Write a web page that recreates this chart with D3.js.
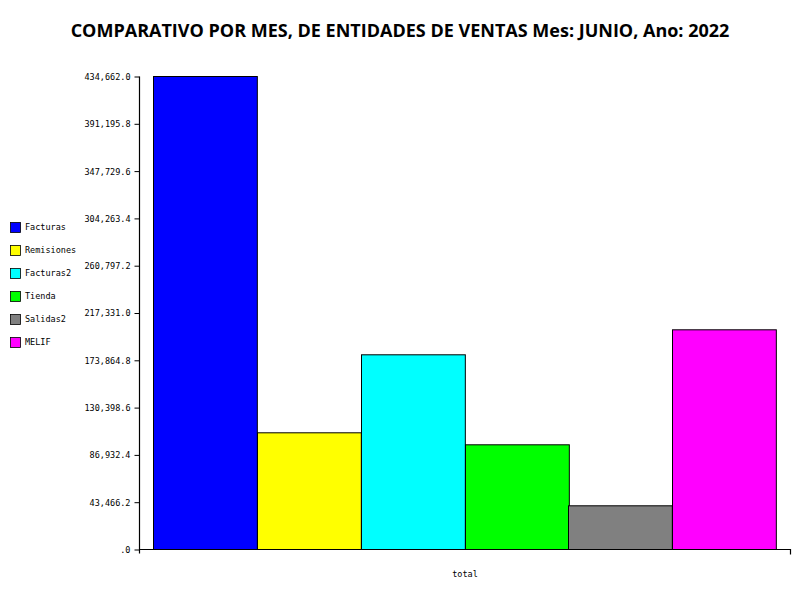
<!DOCTYPE html>
<html>
<head>
<meta charset="utf-8">
<script src="https://cdn.jsdelivr.net/npm/d3@7"></script>
<style>
body { margin: 0; background: #fff; }
svg { display: block; }
</style>
</head>
<body>
<svg id="chart" width="800" height="600"></svg>
<script>
const titleText = "COMPARATIVO POR MES, DE ENTIDADES DE VENTAS Mes: JUNIO, Ano: 2022";
const categories = ["total"];
const seriesNames = ["Facturas", "Remisiones", "Facturas2", "Tienda", "Salidas2", "MELIF"];
const seriesValues = [434662.0, 107240, 178920, 96210, 40160, 201890];
const seriesColors = ["#0000ff", "#ffff00", "#00ffff", "#00ff00", "#808080", "#ff00ff"];
const yTickValues = [0, 43466.2, 86932.4, 130398.6, 173864.8, 217331.0, 260797.2, 304263.4, 347729.6, 391195.8, 434662.0];

const svg = d3.select("#chart");
const margin = { left: 139, right: 10, top: 76, bottom: 51 };
const W = 800, H = 600;
const monoFont = "'DejaVu Sans Mono', monospace";

svg.append("text")
  .attr("x", 400).attr("y", 37)
  .attr("text-anchor", "middle")
  .style("font-family", "'Open Sans', sans-serif")
  .style("font-weight", "bold")
  .style("font-size", "18px")
  .text(titleText);

const y = d3.scaleLinear().domain([0, d3.max(yTickValues)]).range([H - margin.bottom, margin.top]);
const x0 = d3.scaleBand().domain(categories).range([margin.left, W - margin.right]).paddingInner(0).paddingOuter(0.0225);
const x1 = d3.scaleBand().domain(seriesNames).range([0, x0.bandwidth()]);

const fmt = v => { const s = d3.format(",.1f")(v); return s.startsWith("0.") ? s.slice(1) : s; };

// bars
const g = svg.append("g");
categories.forEach(cat => {
  g.selectAll(null).data(seriesNames.map((n, i) => ({ n, v: seriesValues[i], c: seriesColors[i] })))
    .enter().append("rect")
    .attr("x", d => Math.round(x0(cat) + x1(d.n)) + 0.5)
    .attr("y", d => y(d.v) + 0.5)
    .attr("width", x1.bandwidth())
    .attr("height", d => y(0) - y(d.v))
    .attr("fill", d => d.c)
    .attr("stroke", "#000")
    .attr("stroke-width", 1);
});

// y axis
const yAxis = d3.axisLeft(y).tickValues(yTickValues).tickFormat(fmt).tickSize(5).tickSizeOuter(0);
const ya = svg.append("g").attr("transform", `translate(${margin.left + 0.5},0.5)`).call(yAxis);
ya.selectAll("text").style("font-family", monoFont).style("font-size", "8.5px").attr("x", -9).attr("dy", "0.35em");
ya.select(".domain").attr("d", `M0,${y(0) + 4}V${margin.top}`).attr("stroke-width", 1.2);

// x axis
const xAxis = d3.axisBottom(x0).tickSize(0).tickSizeOuter(5);
const xa = svg.append("g").attr("transform", `translate(0.5,${y(0) + 0.5})`).call(xAxis);
xa.select(".domain").attr("d", `M${margin.left},0H${W - margin.right}V5`).attr("stroke-width", 1.2);
xa.selectAll("text").style("font-family", monoFont).style("font-size", "8.5px").attr("y", 27).attr("dy", "0");

// legend
const lg = svg.append("g");
seriesNames.forEach((n, i) => {
  const yy = 222 + i * 23;
  lg.append("rect").attr("x", 10.5).attr("y", yy + 0.5).attr("width", 10).attr("height", 10)
    .attr("fill", seriesColors[i]).attr("stroke", "#000").attr("stroke-width", 0.8);
  lg.append("text").attr("x", 25).attr("y", yy + 5.5).attr("dy", "0.35em")
    .style("font-family", monoFont).style("font-size", "8.5px").text(n);
});
</script>
</body>
</html>
